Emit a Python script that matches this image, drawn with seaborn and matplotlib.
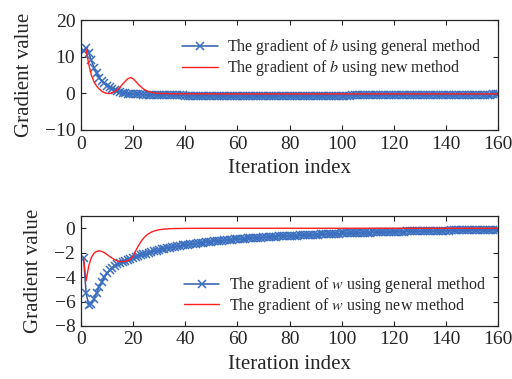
import matplotlib
matplotlib.use("Agg")
import matplotlib.pyplot as plt
import seaborn as sns
import pandas as pd

# ---------------- data ----------------
iters = list(range(1, 161))

b_general = [
    11.5, 12.5, 11.0, 9.0, 7.0, 5.5, 4.3, 3.4, 2.7, 2.1,
    1.6, 1.2, 0.85, 0.55, 0.3, 0.1, 0.0, -0.1, -0.15, -0.2,
    -0.25, -0.28, -0.3, -0.33, -0.36, -0.38, -0.4, -0.42, -0.44, -0.46,
    -0.48, -0.5, -0.51, -0.52, -0.54, -0.55, -0.56, -0.57, -0.58, -0.59,
    -0.6, -0.61, -0.62, -0.62, -0.63, -0.64, -0.64, -0.65, -0.65, -0.66,
    -0.66, -0.67, -0.67, -0.68, -0.68, -0.68, -0.69, -0.69, -0.69, -0.7,
    -0.7, -0.7, -0.7, -0.7, -0.7, -0.7, -0.7, -0.7, -0.7, -0.7,
    -0.7, -0.7, -0.7, -0.69, -0.69, -0.69, -0.69, -0.68, -0.68, -0.68,
    -0.68, -0.67, -0.67, -0.67, -0.66, -0.66, -0.66, -0.65, -0.65, -0.65,
    -0.64, -0.64, -0.63, -0.63, -0.63, -0.62, -0.62, -0.61, -0.61, -0.6,
    -0.6, -0.59, -0.59, -0.58, -0.58, -0.57, -0.57, -0.56, -0.56, -0.55,
    -0.55, -0.54, -0.54, -0.53, -0.53, -0.52, -0.52, -0.51, -0.51, -0.5,
    -0.5, -0.49, -0.49, -0.48, -0.48, -0.47, -0.47, -0.46, -0.46, -0.45,
    -0.45, -0.44, -0.44, -0.43, -0.43, -0.42, -0.42, -0.41, -0.41, -0.4,
    -0.4, -0.39, -0.39, -0.38, -0.38, -0.37, -0.37, -0.36, -0.36, -0.35,
    -0.35, -0.34, -0.34, -0.33, -0.33, -0.32, -0.32, -0.31, -0.31, -0.3,
]

b_new_iters = list(range(2, 31)) + [32, 35, 40, 60, 80, 100, 120, 140, 160]
b_new = [
    12.0, 8.0, 5.0, 3.2, 2.0, 1.2, 0.6, 0.2, 0.0, -0.05,
    0.15, 0.5, 1.0, 1.7, 2.5, 3.3, 4.0, 4.3, 4.0, 3.3,
    2.5, 1.8, 1.2, 0.8, 0.5, 0.3, 0.15, 0.05, 0.0,
    -0.05, -0.1, -0.12, -0.15, -0.15, -0.15, -0.15, -0.15, -0.15,
]

w_general = [
    -2.4, -5.3, -6.3, -6.2, -5.8, -5.3, -4.8, -4.4, -4.0, -3.7,
    -3.45, -3.25, -3.1, -2.95, -2.85, -2.75, -2.65, -2.58, -2.5, -2.43,
    -2.36, -2.29, -2.22, -2.15, -2.08, -2.02, -1.96, -1.9, -1.84, -1.78,
    -1.73, -1.68, -1.64, -1.6, -1.56, -1.52, -1.48, -1.45, -1.41, -1.38,
    -1.35, -1.32, -1.29, -1.26, -1.23, -1.2, -1.17, -1.14, -1.12, -1.09,
    -1.07, -1.05, -1.03, -1.01, -0.99, -0.97, -0.95, -0.93, -0.91, -0.9,
    -0.88, -0.86, -0.85, -0.83, -0.82, -0.8, -0.79, -0.77, -0.76, -0.75,
    -0.73, -0.72, -0.71, -0.69, -0.68, -0.67, -0.66, -0.65, -0.64, -0.63,
    -0.62, -0.61, -0.6, -0.59, -0.58, -0.57, -0.56, -0.55, -0.54, -0.53,
    -0.52, -0.51, -0.5, -0.49, -0.48, -0.47, -0.46, -0.45, -0.44, -0.43,
    -0.42, -0.41, -0.41, -0.4, -0.39, -0.38, -0.38, -0.37, -0.36, -0.35,
    -0.35, -0.34, -0.33, -0.33, -0.32, -0.31, -0.31, -0.3, -0.3, -0.29,
    -0.28, -0.28, -0.27, -0.27, -0.26, -0.26, -0.25, -0.25, -0.24, -0.24,
    -0.23, -0.23, -0.22, -0.22, -0.21, -0.21, -0.2, -0.2, -0.2, -0.19,
    -0.19, -0.18, -0.18, -0.18, -0.17, -0.17, -0.16, -0.16, -0.16, -0.15,
    -0.15, -0.15, -0.14, -0.14, -0.14, -0.13, -0.13, -0.13, -0.12, -0.12,
]

w_new_iters = list(range(1, 31)) + [32, 35, 40, 50, 60, 80, 100, 120, 140, 160]
w_new = [
    -2.4, -4.3, -3.1, -2.4, -2.05, -1.9, -1.85, -1.9, -2.0, -2.15,
    -2.3, -2.45, -2.58, -2.68, -2.73, -2.73, -2.7, -2.65, -2.55, -2.3,
    -1.85, -1.45, -1.1, -0.82, -0.6, -0.44, -0.32, -0.23, -0.17, -0.12,
    -0.07, -0.03, -0.01, 0.0, 0.0, 0.0, 0.0, 0.0, 0.0, 0.0,
]

x_ticks = [0, 20, 40, 60, 80, 100, 120, 140, 160]
top_yticks = [-10, 0, 10, 20]
bot_yticks = [-8, -6, -4, -2, 0]

labels_b = ["The gradient of $b$ using general method", "The gradient of $b$ using new method"]
labels_w = ["The gradient of $w$ using general method", "The gradient of $w$ using new method"]

# ---------------- style ----------------
sns.set_style("ticks")
plt.rcParams["font.family"] = ["Liberation Serif", "DejaVu Serif"]
plt.rcParams["mathtext.fontset"] = "stix"
plt.rcParams["xtick.direction"] = "in"
plt.rcParams["ytick.direction"] = "in"

BLUE = "#2d5ea8"
MARK = "#3b6fc0"
RED = "#ff1f1f"

fig = plt.figure(figsize=(5.12, 3.79), dpi=100)
ax1 = fig.add_axes([0.158, 0.657, 0.815, 0.290])
ax2 = fig.add_axes([0.158, 0.140, 0.815, 0.290])


def draw(ax, gen_x, gen_y, new_x, new_y, labels, ylim, yticks, legend_anchor):
    dg = pd.DataFrame({"x": gen_x, "y": gen_y})
    dn = pd.DataFrame({"x": new_x, "y": new_y})
    sns.lineplot(data=dg, x="x", y="y", ax=ax, color=BLUE, lw=1.1,
                 marker="x", markersize=5.5, markeredgewidth=1.1,
                 markeredgecolor=MARK, label=labels[0])
    sns.lineplot(data=dn, x="x", y="y", ax=ax, color=RED, lw=1.0, label=labels[1])
    ax.set_xlim(0, 160)
    ax.set_ylim(*ylim)
    ax.set_xticks(x_ticks)
    ax.set_yticks(yticks)
    ax.tick_params(axis="both", labelsize=14, top=True, right=True,
                   length=3.5, width=0.8, pad=4)
    ax.set_xlabel("Iteration index", fontsize=15, labelpad=5)
    ax.set_ylabel("Gradient value", fontsize=15, labelpad=8)
    for s in ax.spines.values():
        s.set_linewidth(0.9)
    ax.legend(loc="upper right", bbox_to_anchor=legend_anchor, frameon=False,
              fontsize=11.5, handlelength=2.2, labelspacing=0.05, numpoints=1,
              borderaxespad=0, handletextpad=0.6)


draw(ax1, iters, b_general, b_new_iters, b_new, labels_b, (-10, 20), top_yticks, (0.975, 0.90))
draw(ax2, iters, w_general, w_new_iters, w_new, labels_w, (-8, 1), bot_yticks, (0.985, 0.52))

fig.savefig("out.png", dpi=100)
